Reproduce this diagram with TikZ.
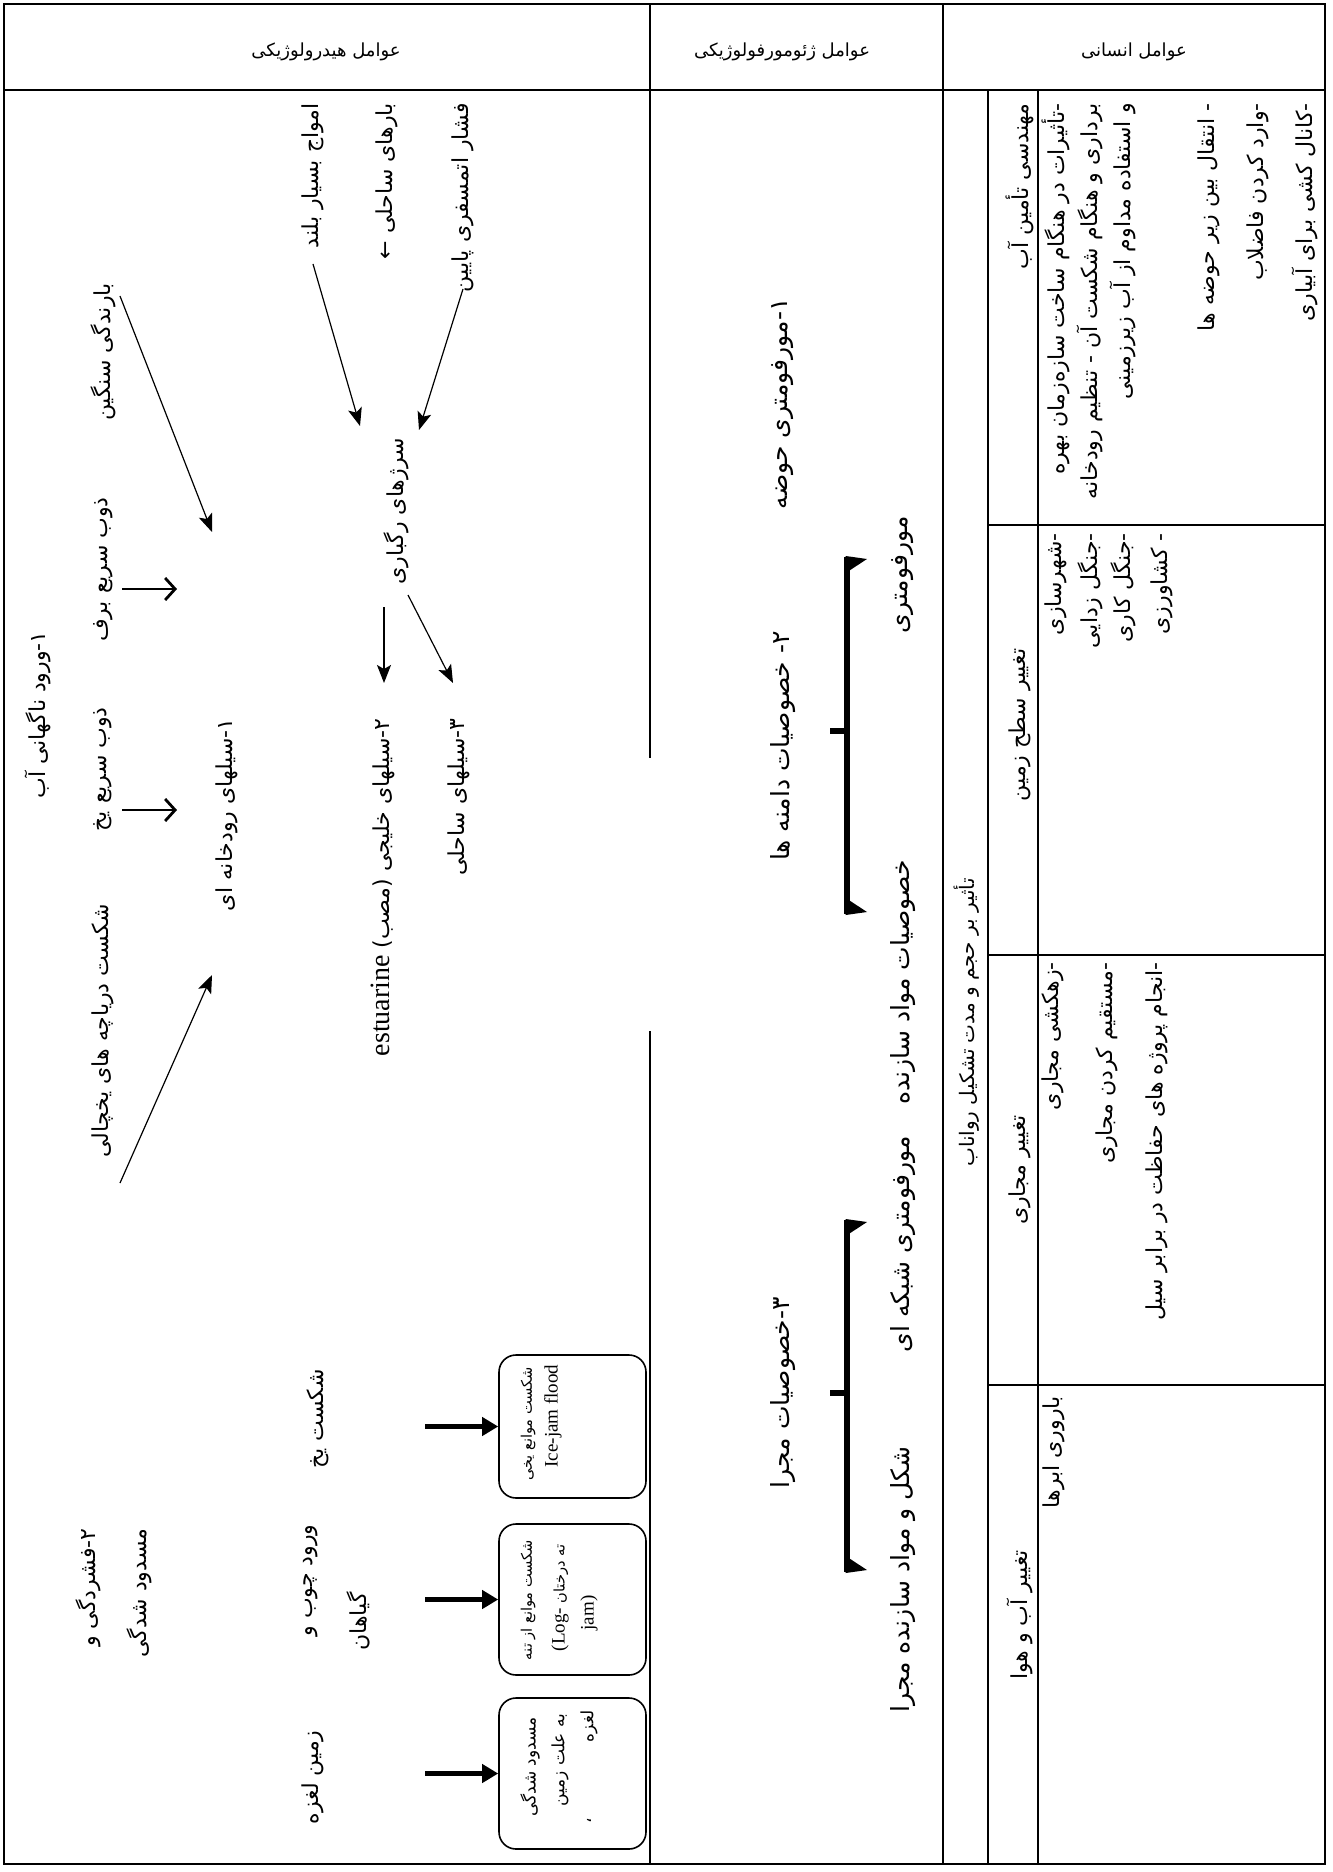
\documentclass[tikz,border=0pt]{standalone}
\usepackage{fontspec}
\setmainfont{Liberation Serif}
\newfontfamily\farsi[Script=Arabic]{DejaVu Sans}
\TeXXeTstate=1
\usetikzlibrary{arrows.meta}
\newcommand\fa[1]{{\farsi\beginR #1\endR}}
\newcommand\lat[1]{{\rmfamily\fontsize{9.5}{11}\selectfont\beginL #1\endL}}
\tikzset{
  rule/.style={line width=0.8pt},
  outerrule/.style={line width=1pt},
  ta/.style={rotate=90, inner sep=0pt, anchor=east, font=\fontsize{11}{13}\selectfont},
  tb/.style={ta, font=\fontsize{12.5}{14}\selectfont},
  tc/.style={ta, font=\fontsize{11}{13}\selectfont},
  tbox/.style={rotate=90, inner sep=0pt, anchor=center, font=\fontsize{8.5}{10}\selectfont},
  tboxs/.style={tbox, font=\fontsize{7.3}{9}\selectfont},
  hdr/.style={inner sep=0pt, font=\fontsize{9}{11}\selectfont},
  arrthin/.style={line width=0.6pt, -{Stealth[length=9pt,width=7pt,inset=2pt]}},
  arropen/.style={line width=1.4pt, -{Straight Barb[length=5pt,width=11pt]}},
  arrthick/.style={line width=2.5pt, -{Triangle[length=8pt,width=9pt]}},
  boxst/.style={draw, line width=0.8pt, rounded corners=8.5pt, inner sep=0pt, minimum width=73.5pt},
  brkline/.style={line width=2.6pt},
}
\begin{document}
\begin{tikzpicture}[x=0.5pt,y=-0.5pt]
\useasboundingbox (0,0) rectangle (1332,1872);
\fill[white] (0,0) rectangle (1332,1872);
% ---------- table rules ----------
\draw[outerrule] (4,4) rectangle (1325,1864);
\draw[rule] (4,90) -- (1325,90);
\draw[rule] (650,4) -- (650,758);
\draw[rule] (650,1031) -- (650,1864);
\draw[rule] (943,4) -- (943,1864);
\draw[rule] (988,90) -- (988,1864);
\draw[rule] (1038,90) -- (1038,1864);
\draw[rule] (988,525) -- (1325,525);
\draw[rule] (988,955) -- (1325,955);
\draw[rule] (988,1385) -- (1325,1385);
% ---------- headers ----------
\node[hdr] (h1) at (326,52) {\fa{عوامل هیدرولوژیکی}};
\node[hdr] (h2) at (782,52) {\fa{عوامل ژئومورفولوژیکی}};
\node[hdr] (h3) at (1134,52) {\fa{عوامل انسانی}};
% ---------- column 1 ----------
\node[ta] (waves) at (313,103) {\fa{امواج بسیار بلند}};
\node[ta] (loads) at (387,103) {\fa{بارهای ساحلی ←}};
\node[ta] (press) at (463,103) {\fa{فشار اتمسفری پایین}};
\node[ta] (rain) at (103,283) {\fa{بارندگی سنگین}};
\node[ta] (surge) at (396,438) {\fa{سرژهای رگباری}};
\node[ta] (snow) at (103,497) {\fa{ذوب سریع برف}};
\node[ta] (sudden) at (38,631) {\fa{۱-ورود ناگهانی آب}};
\node[ta] (icemelt) at (103,707) {\fa{ذوب سریع یخ}};
\node[ta] (river) at (227,718) {\fa{۱-سیلهای رودخانه ای}};
\node[ta] (estu) at (383,718) {\fa{۲-سیلهای خلیجی (مصب) {\rmfamily\fontsize{14}{16}\selectfont estuarine}}};
\node[ta] (coast) at (459,718) {\fa{۳-سیلهای ساحلی}};
\node[ta] (lake) at (103,904) {\fa{شکست دریاچه های یخچالی}};
\node[ta] (breakice) at (318,1369) {\fa{شکست یخ}};
\node[ta] (jamA) at (88,1528) {\fa{۲-فشردگی و}};
\node[ta] (jamB) at (139,1528) {\fa{مسدود شدگی}};
\node[ta] (woodA) at (311,1524) {\fa{ورود چوب و}};
\node[ta,anchor=west] (woodB) at (358,1651) {\fa{گیاهان}};
\node[ta] (slide) at (313,1730) {\fa{زمین لغزه}};
% boxes
\node[boxst, minimum height=71.5pt] (bice) at (572.5,1426.5) {};
\node[boxst, minimum height=75.5pt] (blog) at (572.5,1599.5) {};
\node[boxst, minimum height=75.5pt] (bslide) at (572.5,1773.5) {};
\node[tboxs] (iceA) at (528,1424) {\fa{شکست موانع یخی}};
\node[tbox, font=\fontsize{9.5}{11}\selectfont] (iceB) at (553,1416) {Ice-jam flood};
\node[tboxs] (logA) at (528,1600) {\fa{شکست موانع از تنه}};
\node[tboxs] (logB) at (560,1598) {\fa{ته درختان \lat{(Log-}}};
\node[tbox, font=\fontsize{9.5}{11}\selectfont] (logC) at (589,1613) {jam)};
\node[tbox] (slA) at (530,1767) {\fa{مسدود شدگی}};
\node[tbox] (slB) at (560,1760) {\fa{به علت زمین}};
\node[tbox,anchor=east] (slC) at (589,1710) {\fa{لغزه}};
\node[tbox] (slD) at (589,1821) {\fa{،}};
% arrows column 1
\coordinate (rainA) at (120,296); \coordinate (rainB) at (212,532);
\coordinate (lakeA) at (120,1183); \coordinate (lakeB) at (212,975);
\coordinate (wavesA) at (313,264); \coordinate (wavesB) at (360,426);
\coordinate (pressA) at (463,289); \coordinate (pressB) at (419,430);
\coordinate (surgeA) at (384,607); \coordinate (surgeB) at (384,683);
\coordinate (surgeC) at (408,595); \coordinate (surgeD) at (453,683);
\coordinate (snowA) at (122,589); \coordinate (snowB) at (177,589);
\coordinate (imA) at (122,810); \coordinate (imB) at (177,810);
\coordinate (tkA) at (425,1426.5);
\coordinate (tkB) at (425,1599.5);
\coordinate (tkC) at (425,1773.5);
\draw[arrthin] (rainA) -- (rainB);
\draw[arrthin] (lakeA) -- (lakeB);
\draw[arrthin] (wavesA) -- (wavesB);
\draw[arrthin] (pressA) -- (pressB);
\draw[arrthin] (surgeA) -- (surgeB);
\draw[arrthin] (surgeC) -- (surgeD);
\draw[arropen] (snowA) -- (snowB);
\draw[arropen] (imA) -- (imB);
\draw[arrthick] (tkA) -- (bice.west);
\draw[arrthick] (tkB) -- (blog.west);
\draw[arrthick] (tkC) -- (bslide.west);
% ---------- column 2 ----------
\node[tb] (m1) at (783,298) {\fa{۱-مورفومتری حوضه}};
\node[tb] (m2) at (783,631) {\fa{۲- خصوصیات دامنه ها}};
\node[tb] (m2a) at (903,516) {\fa{مورفومتری}};
\node[tb] (m2b) at (903,860) {\fa{خصوصیات مواد سازنده}};
\node[tb] (m3) at (783,1297) {\fa{۳-خصوصیات مجرا}};
\node[tb] (m3a) at (903,1136) {\fa{مورفومتری شبکه ای}};
\node[tb] (m3b) at (903,1446) {\fa{شکل و مواد سازنده مجرا}};
% brackets
\draw[brkline] (847,557) -- (847,914);
\fill (845.7,556) -- (867,559) -- (845.7,573) -- cycle;
\fill (845.7,915) -- (867,912) -- (845.7,898) -- cycle;
\draw[brkline] (830,731) -- (847,731);
\draw[brkline] (847,1220) -- (847,1572);
\fill (845.7,1219) -- (867,1222) -- (845.7,1236) -- cycle;
\fill (845.7,1573) -- (867,1570) -- (845.7,1556) -- cycle;
\draw[brkline] (830,1393) -- (847,1393);
% ---------- column 3 ----------
\node[tc, font=\fontsize{10}{12}\selectfont] (effect) at (967,878) {\fa{تأثیر بر حجم و مدت تشکیل رواناب}};
\node[tc] (r1h) at (1020,103) {\fa{مهندسی تأمین آب}};
\node[tc] (r1a) at (1056,103) {\fa{-تأثیرات در هنگام ساخت سازه‌زمان بهره}};
\node[tc] (r1b) at (1090,103) {\fa{برداری و هنگام شکست آن - تنظیم رودخانه}};
\node[tc] (r1c) at (1123,103) {\fa{و استفاده مداوم از آب زیرزمینی}};
\node[tc] (r1d) at (1209,103) {\fa{- انتقال بین زیر حوضه ها}};
\node[tc] (r1e) at (1258,103) {\fa{-وارد کردن فاضلاب}};
\node[tc] (r1f) at (1305,103) {\fa{-کانال کشی برای آبیاری}};
\node[tc,anchor=center] (r2h) at (1020,725) {\fa{تغییر سطح زمین}};
\node[tc] (r2a) at (1056,533) {\fa{-شهرسازی}};
\node[tc] (r2b) at (1090,533) {\fa{-جنگل زدایی}};
\node[tc] (r2c) at (1123,533) {\fa{-جنگل کاری}};
\node[tc] (r2d) at (1162,533) {\fa{- کشاورزی}};
\node[tc,anchor=center] (r3h) at (1020,1170) {\fa{تغییر مجاری}};
\node[tc] (r3a) at (1053,962) {\fa{-زهکشی مجاری}};
\node[tc] (r3b) at (1107,962) {\fa{-مستقیم کردن مجاری}};
\node[tc] (r3c) at (1157,962) {\fa{-انجام پروژه های حفاظت در برابر سیل}};
\node[tc,anchor=center] (r4h) at (1020,1615) {\fa{تغییر آب و هوا}};
\node[tc] (r4a) at (1054,1396) {\fa{باروری ابرها}};
\end{tikzpicture}
\end{document}
